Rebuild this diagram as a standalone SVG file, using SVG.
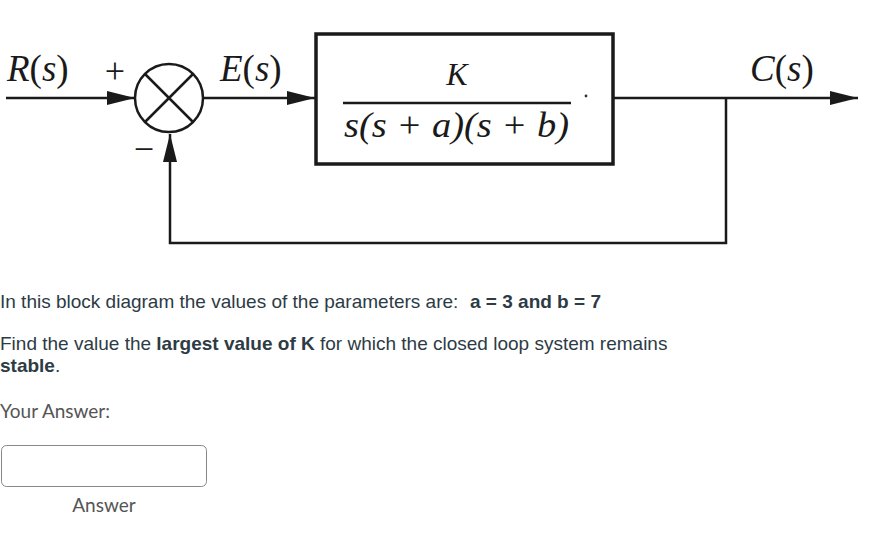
<svg xmlns="http://www.w3.org/2000/svg" width="891" height="545" viewBox="0 0 891 545">
<style>
.ln{stroke:#1a1a1a;stroke-width:2.5;fill:none}
.math{font-family:"Liberation Serif",serif;font-style:italic;fill:#1a1a1a}
.up{font-style:normal}
.sym{font-family:"Liberation Serif",serif;fill:#1a1a1a}
.body{font-family:"Liberation Sans",Arial,sans-serif;font-size:19px;fill:#2d3b45}
.b{font-weight:bold}
.lato{font-family:Lato,"Liberation Sans",sans-serif;font-size:19px;fill:#555}
</style>
<defs>
<marker id="ah" markerWidth="30" markerHeight="14" refX="28" refY="7" orient="auto" markerUnits="userSpaceOnUse">
<path d="M0,0 L28,7 L0,14 Z" fill="#1a1a1a"/>
</marker>
</defs>
<rect width="891" height="545" fill="#fff"/>
<g id="connectors">
<line class="ln" x1="6" y1="98" x2="135" y2="98" marker-end="url(#ah)"/>
<line class="ln" x1="204" y1="98" x2="315" y2="98" marker-end="url(#ah)"/>
<line class="ln" x1="613" y1="98" x2="858" y2="98" marker-end="url(#ah)"/>
<polyline class="ln" points="726,98 726,243 170,243 170,134" marker-end="url(#ah)"/>
</g>
<g id="summer">
<circle class="ln" cx="169" cy="98" r="34"/>
<line class="ln" x1="145" y1="74" x2="193" y2="122"/>
<line class="ln" x1="193" y1="74" x2="145" y2="122"/>
<text class="sym" x="115" y="83" font-size="36" text-anchor="middle">+</text>
<text class="sym" x="144" y="161" font-size="36" text-anchor="middle">−</text>
</g>
<g id="plant">
<rect x="316" y="34" width="297" height="130" fill="#fff" stroke="#1a1a1a" stroke-width="3.5"/>
<text class="math" x="457" y="85" font-size="32" text-anchor="middle">K</text>
<line x1="343" y1="103" x2="571" y2="103" stroke="#1a1a1a" stroke-width="2.5"/>
<text class="math" x="344" y="137" font-size="35" textLength="225" lengthAdjust="spacingAndGlyphs">s(s + a)(s + b)</text>
<circle cx="586" cy="96" r="1.4" fill="#333"/>
</g>
<g id="labels">
<text class="math" x="7" y="81" font-size="37">R<tspan class="up">(</tspan>s<tspan class="up">)</tspan></text>
<text class="math" x="220" y="81" font-size="37">E<tspan class="up">(</tspan>s<tspan class="up">)</tspan></text>
<text class="math" x="750" y="81" font-size="37">C<tspan class="up">(</tspan>s<tspan class="up">)</tspan></text>
</g>
<g id="question">
<text class="body" x="0" y="308">In this block diagram the values of the parameters are:<tspan class="b" x="470">a = 3 and b = 7</tspan></text>
<text class="body" x="0" y="350">Find the value the <tspan class="b">largest value of K</tspan> for which the closed loop system remains</text>
<text class="body" x="0" y="372"><tspan class="b">stable</tspan>.</text>
<text class="lato" x="0" y="418">Your Answer:</text>
<rect x="1.5" y="445.5" width="205" height="41" rx="5" fill="#fff" stroke="#888" stroke-width="1"/>
<text class="lato" x="104" y="512" text-anchor="middle">Answer</text>
</g>
</svg>
